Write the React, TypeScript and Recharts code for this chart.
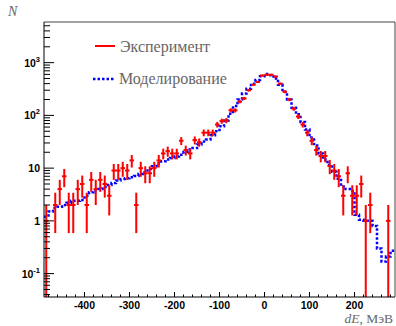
import { ComposedChart, Line, Scatter, ErrorBar, XAxis, YAxis, Legend, Label } from "recharts"

// bin centres, MeV (10 MeV bins)
const binCenters = [
  -485, -475, -465, -455, -445, -435, -425, -415, -405, -395,
  -385, -375, -365, -355, -345, -335, -325, -315, -305, -295,
  -285, -275, -265, -255, -245, -235, -225, -215, -205, -195,
  -185, -175, -165, -155, -145, -135, -125, -115, -105, -95,
  -85, -75, -65, -55, -45, -35, -25, -15, -5, 5,
  15, 25, 35, 45, 55, 65, 75, 85, 95, 105,
  115, 125, 135, 145, 155, 165, 175, 185, 195, 205,
  215, 225, 235, 245, 255, 265, 275, 285,
]

// counts per bin, experiment
const experiment = [
  1, 0, 2, 4, 7, 2, 2, 4, 5, 2,
  6, 4, 6, 5, 3, 9, 9, 10, 9, 14,
  2, 10, 8, 8, 10, 14, 19, 21, 19, 19,
  33, 22, 19, 34, 31, 47, 47, 47, 67, 78,
  80, 125, 125, 182, 210, 300, 380, 430, 570, 590,
  590, 545, 400, 280, 200, 134, 95, 67, 47, 33,
  22, 17, 17, 11, 9, 7, 3, 8, 3, 3,
  5, 1, 2, 0, 0, 0, 1, 0,
]

// simulated spectrum
const model = [
  1.2, 1.5, 1.75, 1.85, 2.0, 2.2, 2.4, 2.4, 2.5, 3.0,
  3.5, 3.8, 4.0, 4.4, 4.8, 5.2, 5.8, 6.2, 6.4, 6.7,
  7.1, 7.7, 8.4, 9.6, 10.8, 12.2, 13.5, 14.5, 15.5, 16.6,
  17.9, 20.2, 22.5, 24, 28, 32, 35, 42, 50, 62,
  80, 108, 150, 200, 260, 320, 400, 470, 550, 610,
  580, 500, 380, 280, 200, 140, 105, 75, 54, 38,
  27, 19, 14.5, 11.5, 8.5, 6.3, 4.5, 4.0, 3.7, 1.3,
  1.05, 1.0, 1.0, 0.8, 0.3, 0.17, 0.21, 0.27,
]

const halfBin = 5
const xDomain = [-490, 290]
const yDomain = [0.036, 5900]

const xTicks = [-400, -300, -200, -100, 0, 100, 200]
const xMinorTicks = [
  -480, -460, -440, -420, -380, -360, -340, -320, -280, -260, -240, -220,
  -180, -160, -140, -120, -80, -60, -40, -20, 20, 40, 60, 80,
  120, 140, 160, 180, 220, 240, 260, 280,
]
const yTicks = [0.1, 1, 10, 100, 1000]
const yTickBase = ["10", "1", "10", "10", "10"]
const yTickExp = ["-1", "", "", "2", "3"]
const yMinorTicks = [
  0.04, 0.05, 0.06, 0.07, 0.08, 0.09,
  0.2, 0.3, 0.4, 0.5, 0.6, 0.7, 0.8, 0.9,
  2, 3, 4, 5, 6, 7, 8, 9,
  20, 30, 40, 50, 60, 70, 80, 90,
  200, 300, 400, 500, 600, 700, 800, 900,
  2000, 3000, 4000, 5000,
]

const RED = "#ff0000"
const BLUE = "#0000ff"
const tickFont = '"Liberation Sans", Arial, sans-serif'
const titleFont = '"Liberation Serif", "Times New Roman", serif'

// histogram drawn as steps from the left edge of every bin
const modelSteps = [
  ...binCenters.map((c, i) => ({ x: c - halfBin, m: model[i] })),
  { x: binCenters[binCenters.length - 1] + halfBin, m: model[model.length - 1] },
]

const expPoints = binCenters
  .map((c, i) => {
    const n = experiment[i]
    const err = Math.sqrt(n)
    return { x: c, n, ey: [n - Math.max(n - err, yDomain[0]), err], ex: halfBin }
  })
  .filter((p) => p.n > 0)

const XTick = ({ x, y, payload }: any) => {
  const major = xTicks.includes(payload.value)
  return (
    <g>
      <line x1={x} x2={x} y1={y} y2={y - (major ? 5 : 2.5)} stroke="#000" />
      {major && (
        <text x={x} y={y + 11.5} textAnchor="middle" fontFamily={tickFont} fontWeight="bold" fontSize={10.5} fill="#000">
          {payload.value}
        </text>
      )}
    </g>
  )
}

const YTick = ({ x, y, payload }: any) => {
  const idx = yTicks.indexOf(payload.value)
  const major = idx >= 0
  return (
    <g>
      <line x1={x} x2={x + (major ? 10 : 6)} y1={y} y2={y} stroke="#000" />
      {major && (
        <text x={40} y={y + 4} textAnchor="end" fontFamily={tickFont} fontWeight="bold" fontSize={10.5} fill="#000">
          {yTickBase[idx]}
          {yTickExp[idx] && (
            <tspan dy={-5} fontSize={7.5}>
              {yTickExp[idx]}
            </tspan>
          )}
        </text>
      )}
    </g>
  )
}

const LegendBox = () => (
  <svg width={396} height={100} style={{ position: "absolute", left: 0, top: 0, overflow: "visible" }}>
    <line x1={95} x2={115} y1={46} y2={46} stroke={RED} strokeWidth={2} />
    <text x={120} y={52} fontFamily={titleFont} fontSize={16} fill="#666">
      Эксперимент
    </text>
    <line x1={93} x2={114} y1={79} y2={79} stroke={BLUE} strokeWidth={2.5} strokeDasharray="2.5 2" />
    <text x={119} y={84} fontFamily={titleFont} fontSize={16} fill="#666">
      Моделирование
    </text>
  </svg>
)

export default function App() {
  return (
    <div style={{ position: "absolute", left: 0, top: 0, background: "#fff" }}>
      <ComposedChart width={396} height={326} margin={{ top: 21, right: 0, bottom: 28, left: 43 }}>
        <XAxis
          dataKey="x"
          type="number"
          domain={xDomain}
          allowDataOverflow
          ticks={[...xTicks, ...xMinorTicks].sort((a, b) => a - b)}
          interval={0}
          tick={<XTick />}
          tickLine={false}
          tickSize={0}
          tickMargin={0}
          height={1}
          axisLine={{ stroke: "#000" }}
        >
          <Label
            content={() => (
              <text x={393} y={323} textAnchor="end" fontFamily={titleFont} fontSize={13.5} fill="#666">
                <tspan fontStyle="italic">dE</tspan>, МэВ
              </text>
            )}
          />
        </XAxis>
        <XAxis xAxisId="top" orientation="top" type="number" domain={xDomain} tick={false} tickLine={false} height={1} axisLine={{ stroke: "#444" }} />
        <YAxis
          type="number"
          scale="log"
          domain={yDomain}
          allowDataOverflow
          ticks={[...yTicks, ...yMinorTicks].sort((a, b) => a - b)}
          interval={0}
          tick={<YTick />}
          tickLine={false}
          tickSize={0}
          tickMargin={0}
          width={1}
          axisLine={{ stroke: "#000" }}
        >
          <Label
            content={() => (
              <text x={8} y={16} fontFamily={titleFont} fontStyle="italic" fontSize={14} fill="#666">
                N
              </text>
            )}
          />
        </YAxis>
        <YAxis yAxisId="right" orientation="right" tick={false} tickLine={false} width={1} axisLine={{ stroke: "#444" }} />
        <Legend content={() => <LegendBox />} wrapperStyle={{ position: "absolute", left: 0, top: 0, bottom: "auto", width: 0, height: 0 }} />
        <Line
          data={modelSteps}
          dataKey="m"
          type="stepAfter"
          stroke={BLUE}
          strokeWidth={2.5}
          strokeDasharray="2.5 2"
          dot={false}
          activeDot={false}
          isAnimationActive={false}
        />
        <Scatter data={expPoints} dataKey="n" fill={RED} shape={() => <g />} isAnimationActive={false}>
          <ErrorBar dataKey="ey" direction="y" width={0} stroke={RED} strokeWidth={2} />
          <ErrorBar dataKey="ex" direction="x" width={0} stroke={RED} strokeWidth={2} />
        </Scatter>
      </ComposedChart>
    </div>
  )
}
